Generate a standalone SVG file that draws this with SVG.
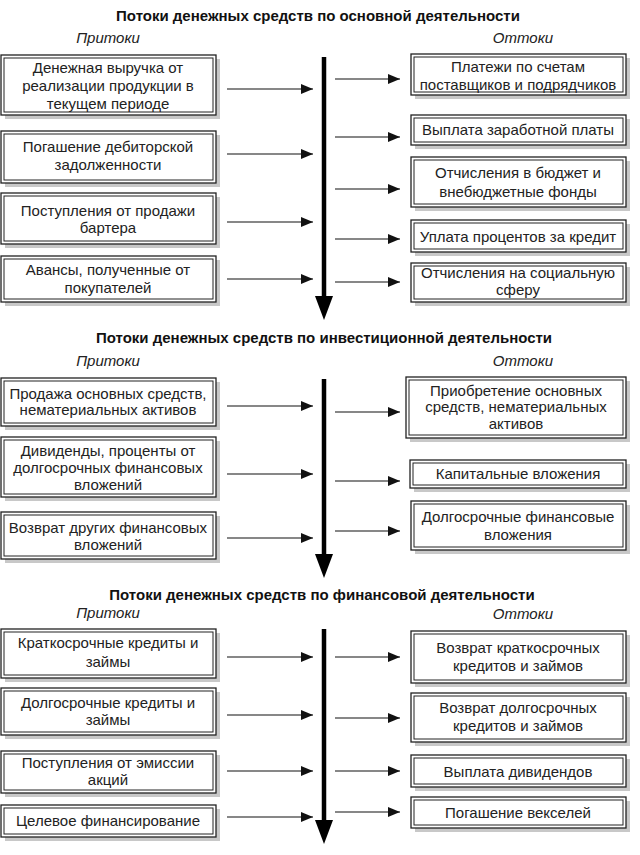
<svg xmlns="http://www.w3.org/2000/svg" width="640" height="855" viewBox="0 0 640 855">
<style>
.sh{fill:#c8c8c8}
.bo{fill:#fff;stroke:#222;stroke-width:1.3}
.bi{fill:none;stroke:#222;stroke-width:1}
.t{font-family:"Liberation Sans",Arial,sans-serif;font-size:15px;fill:#222;text-anchor:middle}
.h{font-family:"Liberation Sans",Arial,sans-serif;font-size:15px;font-weight:bold;fill:#111;text-anchor:middle}
.s{font-family:"Liberation Sans",Arial,sans-serif;font-size:15px;font-style:italic;fill:#222;text-anchor:middle}
.a{stroke:#111;stroke-width:1.2;fill:none;marker-end:url(#ah)}
.m{stroke:#000;stroke-width:4.5;fill:none}
.mh{fill:#000}
</style>
<defs>
<marker id="ah" viewBox="0 0 12 10" refX="12" refY="5" markerWidth="12" markerHeight="10" markerUnits="userSpaceOnUse" orient="auto">
<path d="M0,0 L12,5 L0,10 Z" fill="#111"/>
</marker>
</defs>

<g id="headers">
<text class="h" x="318" y="21">Потоки денежных средств по основной деятельности</text>
<text class="s" x="108" y="43">Притоки</text>
<text class="s" x="523" y="43">Оттоки</text>
<text class="h" x="324" y="343">Потоки денежных средств по инвестиционной деятельности</text>
<text class="s" x="108" y="366">Притоки</text>
<text class="s" x="523" y="366">Оттоки</text>
<text class="h" x="322" y="600">Потоки денежных средств по финансовой деятельности</text>
<text class="s" x="108" y="618">Притоки</text>
<text class="s" x="523" y="619">Оттоки</text>
</g>

<!-- Section 1 left -->
<g id="s1l1"><rect class="sh" x="5" y="59" width="215" height="60"/><rect class="bo" x="1" y="55" width="215" height="60"/><rect class="bi" x="4" y="58" width="209" height="54"/>
<text class="t" x="108" y="73">Денежная выручка от</text><text class="t" x="108" y="91">реализации продукции в</text><text class="t" x="108" y="109">текущем периоде</text></g>
<g id="s1l2"><rect class="sh" x="5" y="135" width="215" height="52"/><rect class="bo" x="1" y="131" width="215" height="52"/><rect class="bi" x="4" y="134" width="209" height="46"/>
<text class="t" x="108" y="152">Погашение дебиторской</text><text class="t" x="108" y="170">задолженности</text></g>
<g id="s1l3"><rect class="sh" x="5" y="197" width="215" height="51"/><rect class="bo" x="1" y="193" width="215" height="51"/><rect class="bi" x="4" y="196" width="209" height="45"/>
<text class="t" x="108" y="216">Поступления от продажи</text><text class="t" x="108" y="233">бартера</text></g>
<g id="s1l4"><rect class="sh" x="5" y="260" width="215" height="46"/><rect class="bo" x="1" y="256" width="215" height="46"/><rect class="bi" x="4" y="259" width="209" height="40"/>
<text class="t" x="108" y="275">Авансы, полученные от</text><text class="t" x="108" y="293">покупателей</text></g>

<!-- Section 1 right -->
<g id="s1r1"><rect class="sh" x="415" y="58" width="215" height="41"/><rect class="bo" x="411" y="54" width="215" height="41"/><rect class="bi" x="414" y="57" width="209" height="35"/>
<text class="t" x="518" y="72">Платежи по счетам</text><text class="t" x="518" y="90">поставщиков и подрядчиков</text></g>
<g id="s1r2"><rect class="sh" x="415" y="119" width="215" height="30"/><rect class="bo" x="411" y="115" width="215" height="30"/><rect class="bi" x="414" y="118" width="209" height="24"/>
<text class="t" x="518" y="135">Выплата заработной платы</text></g>
<g id="s1r3"><rect class="sh" x="415" y="161" width="215" height="50"/><rect class="bo" x="411" y="157" width="215" height="50"/><rect class="bi" x="414" y="160" width="209" height="44"/>
<text class="t" x="518" y="178">Отчисления в бюджет и</text><text class="t" x="518" y="197">внебюджетные фонды</text></g>
<g id="s1r4"><rect class="sh" x="415" y="224" width="215" height="32"/><rect class="bo" x="411" y="220" width="215" height="32"/><rect class="bi" x="414" y="223" width="209" height="26"/>
<text class="t" x="518" y="242">Уплата процентов за кредит</text></g>
<g id="s1r5"><rect class="sh" x="415" y="267" width="215" height="39"/><rect class="bo" x="411" y="263" width="215" height="39"/><rect class="bi" x="414" y="266" width="209" height="33"/>
<text class="t" x="518" y="278">Отчисления на социальную</text><text class="t" x="518" y="295">сферу</text></g>

<!-- Section 2 left -->
<g id="s2l1"><rect class="sh" x="5" y="382" width="215" height="48"/><rect class="bo" x="1" y="378" width="215" height="48"/><rect class="bi" x="4" y="381" width="209" height="42"/>
<text class="t" x="108" y="399">Продажа основных средств,</text><text class="t" x="108" y="415">нематериальных активов</text></g>
<g id="s2l2"><rect class="sh" x="5" y="441" width="215" height="60"/><rect class="bo" x="1" y="437" width="215" height="60"/><rect class="bi" x="4" y="440" width="209" height="54"/>
<text class="t" x="108" y="456">Дивиденды, проценты от</text><text class="t" x="108" y="473">долгосрочных финансовых</text><text class="t" x="108" y="490">вложений</text></g>
<g id="s2l3"><rect class="sh" x="5" y="516" width="215" height="47"/><rect class="bo" x="1" y="512" width="215" height="47"/><rect class="bi" x="4" y="515" width="209" height="41"/>
<text class="t" x="108" y="533">Возврат других финансовых</text><text class="t" x="108" y="550">вложений</text></g>

<!-- Section 2 right -->
<g id="s2r1"><rect class="sh" x="410" y="381" width="220" height="61"/><rect class="bo" x="406" y="377" width="220" height="61"/><rect class="bi" x="409" y="380" width="214" height="55"/>
<text class="t" x="516" y="396">Приобретение основных</text><text class="t" x="516" y="412">средств, нематериальных</text><text class="t" x="516" y="429">активов</text></g>
<g id="s2r2"><rect class="sh" x="414" y="464" width="216" height="28"/><rect class="bo" x="410" y="460" width="216" height="28"/><rect class="bi" x="413" y="463" width="210" height="22"/>
<text class="t" x="518" y="479">Капитальные вложения</text></g>
<g id="s2r3"><rect class="sh" x="415" y="505" width="215" height="49"/><rect class="bo" x="411" y="501" width="215" height="49"/><rect class="bi" x="414" y="504" width="209" height="43"/>
<text class="t" x="518" y="522">Долгосрочные финансовые</text><text class="t" x="518" y="540">вложения</text></g>

<!-- Section 3 left -->
<g id="s3l1"><rect class="sh" x="5" y="633" width="215" height="49"/><rect class="bo" x="1" y="629" width="215" height="49"/><rect class="bi" x="4" y="632" width="209" height="43"/>
<text class="t" x="108" y="648">Краткосрочные кредиты и</text><text class="t" x="108" y="667">займы</text></g>
<g id="s3l2"><rect class="sh" x="5" y="692" width="215" height="47"/><rect class="bo" x="1" y="688" width="215" height="47"/><rect class="bi" x="4" y="691" width="209" height="41"/>
<text class="t" x="108" y="708">Долгосрочные кредиты и</text><text class="t" x="108" y="725">займы</text></g>
<g id="s3l3"><rect class="sh" x="5" y="755" width="215" height="42"/><rect class="bo" x="1" y="751" width="215" height="42"/><rect class="bi" x="4" y="754" width="209" height="36"/>
<text class="t" x="108" y="768">Поступления от эмиссии</text><text class="t" x="108" y="785">акций</text></g>
<g id="s3l4"><rect class="sh" x="5" y="809" width="215" height="32"/><rect class="bo" x="1" y="805" width="215" height="32"/><rect class="bi" x="4" y="808" width="209" height="26"/>
<text class="t" x="108" y="826">Целевое финансирование</text></g>

<!-- Section 3 right -->
<g id="s3r1"><rect class="sh" x="415" y="635" width="215" height="52"/><rect class="bo" x="411" y="631" width="215" height="52"/><rect class="bi" x="414" y="634" width="209" height="46"/>
<text class="t" x="518" y="653">Возврат краткосрочных</text><text class="t" x="518" y="671">кредитов и займов</text></g>
<g id="s3r2"><rect class="sh" x="415" y="697" width="215" height="49"/><rect class="bo" x="411" y="693" width="215" height="49"/><rect class="bi" x="414" y="696" width="209" height="43"/>
<text class="t" x="518" y="713">Возврат долгосрочных</text><text class="t" x="518" y="731">кредитов и займов</text></g>
<g id="s3r3"><rect class="sh" x="415" y="759" width="215" height="32"/><rect class="bo" x="411" y="755" width="215" height="32"/><rect class="bi" x="414" y="758" width="209" height="26"/>
<text class="t" x="518" y="777">Выплата дивидендов</text></g>
<g id="s3r4"><rect class="sh" x="415" y="801" width="215" height="31"/><rect class="bo" x="411" y="797" width="215" height="31"/><rect class="bi" x="414" y="800" width="209" height="25"/>
<text class="t" x="518" y="818">Погашение векселей</text></g>

<g id="connectors">
<line class="m" x1="324" y1="57" x2="324" y2="298"/><path class="mh" d="M315,296 L333,296 L324,320 Z"/>
<line class="m" x1="324" y1="379" x2="324" y2="556"/><path class="mh" d="M315,554 L333,554 L324,578 Z"/>
<line class="m" x1="324" y1="629" x2="324" y2="822"/><path class="mh" d="M315,820 L333,820 L324,844 Z"/>
<line class="a" x1="227" y1="89" x2="313" y2="89"/>
<line class="a" x1="227" y1="154" x2="313" y2="154"/>
<line class="a" x1="227" y1="222" x2="313" y2="222"/>
<line class="a" x1="227" y1="279" x2="313" y2="279"/>
<line class="a" x1="335" y1="79" x2="400" y2="79"/>
<line class="a" x1="335" y1="137" x2="400" y2="137"/>
<line class="a" x1="335" y1="189" x2="400" y2="189"/>
<line class="a" x1="335" y1="239" x2="400" y2="239"/>
<line class="a" x1="335" y1="282" x2="400" y2="282"/>
<line class="a" x1="227" y1="406" x2="313" y2="406"/>
<line class="a" x1="227" y1="474" x2="313" y2="474"/>
<line class="a" x1="227" y1="538" x2="313" y2="538"/>
<line class="a" x1="335" y1="412" x2="400" y2="412"/>
<line class="a" x1="335" y1="481" x2="400" y2="481"/>
<line class="a" x1="335" y1="531" x2="400" y2="531"/>
<line class="a" x1="227" y1="657" x2="313" y2="657"/>
<line class="a" x1="227" y1="715" x2="313" y2="715"/>
<line class="a" x1="227" y1="771" x2="313" y2="771"/>
<line class="a" x1="227" y1="817" x2="313" y2="817"/>
<line class="a" x1="335" y1="657" x2="400" y2="657"/>
<line class="a" x1="335" y1="718" x2="400" y2="718"/>
<line class="a" x1="335" y1="771" x2="400" y2="771"/>
<line class="a" x1="335" y1="812" x2="400" y2="812"/>
</g>
</svg>
